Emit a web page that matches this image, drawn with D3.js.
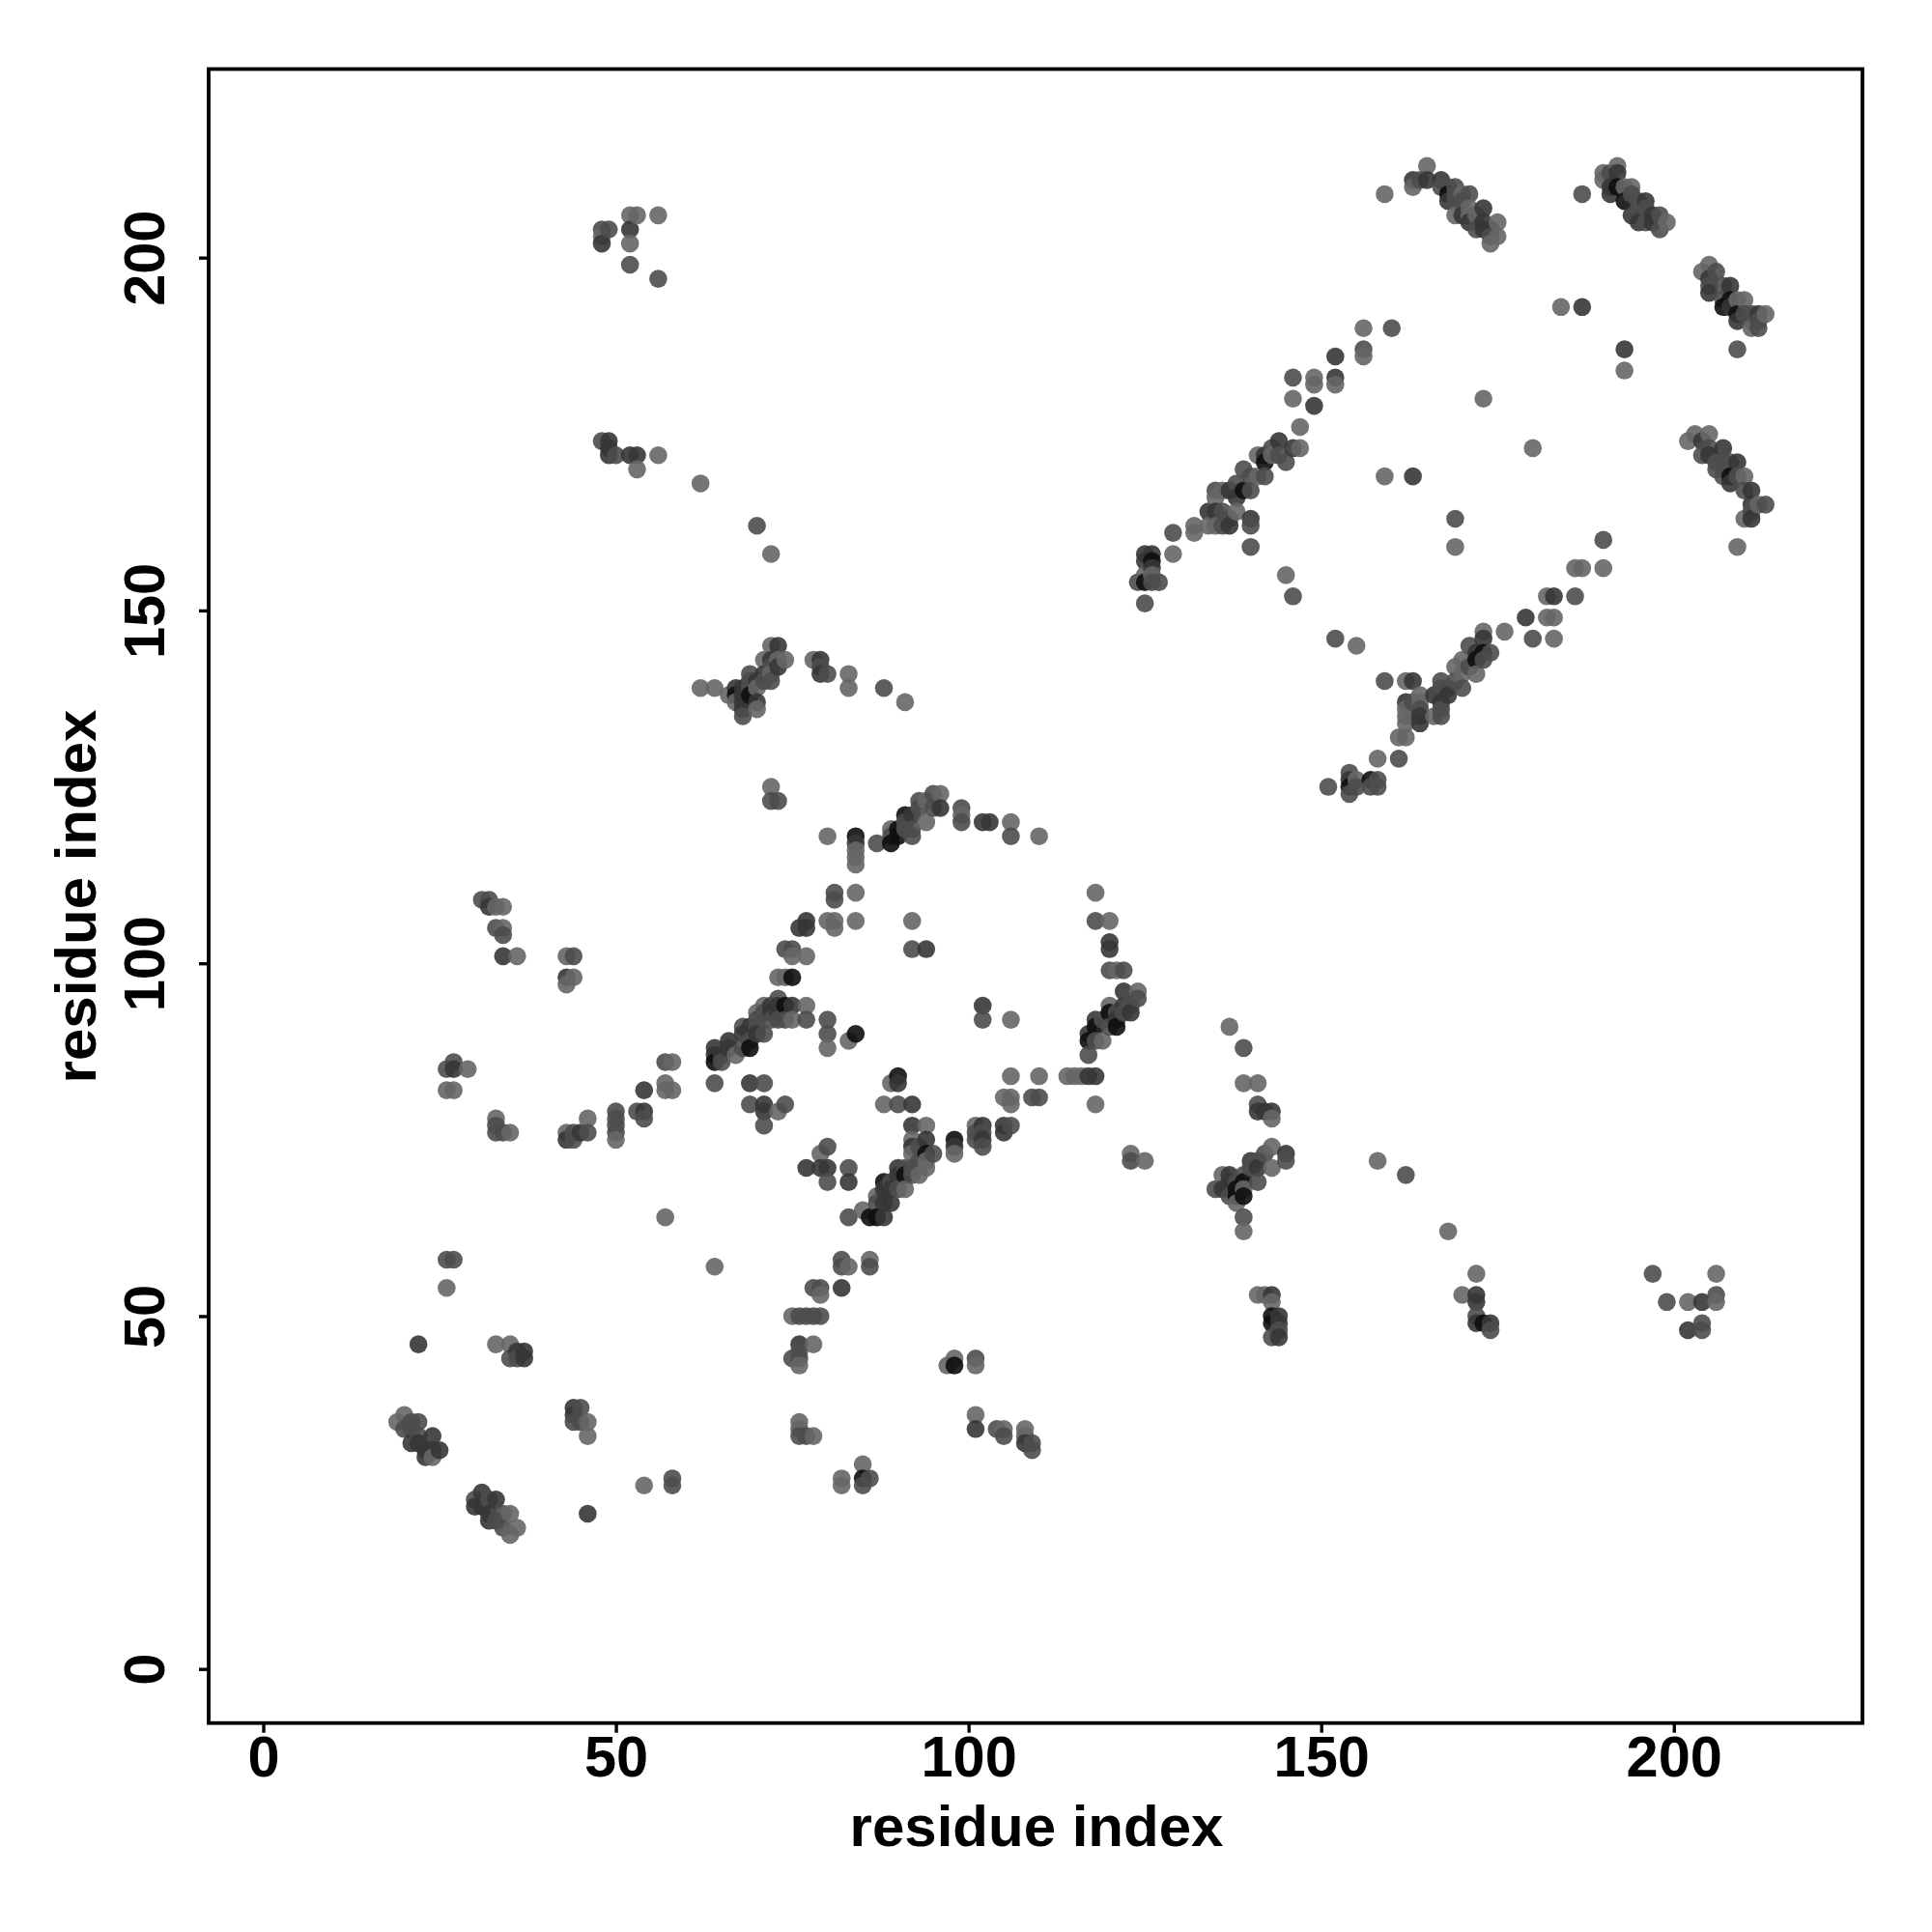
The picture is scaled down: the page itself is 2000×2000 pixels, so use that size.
<!DOCTYPE html>
<html><head><meta charset="utf-8">
<script src="https://cdn.jsdelivr.net/npm/d3@7/dist/d3.min.js"></script>
<style>html,body{margin:0;background:#fff}svg{display:block}</style></head>
<body><svg id="c" width="2000" height="2000"></svg>
<script>
const tickValues=[0,50,100,150,200];
const axisLabel="residue index";
const xDomain=[-7.74,226.74], yDomain=[-7.67,226.72];
// contacts by shade: [residue x, residue y]
const contactsLight=[[159,209],[57,64],[64,57],[26,54],[33,46],[35,46],[19,35],[20,36],[46,35],[46,33],[24,30],[35,22],[36,20],[35,19],[54,26],[83,57],[86,58],[79,53],[79,73],[89,83],[88,80],[94,77],[80,88],[77,94],[83,89],[73,98],[74,98],[77,101],[75,101],[92,106],[106,92],[98,73],[101,77],[105,81],[106,81],[106,80],[106,84],[110,84],[114,84],[115,84],[116,84],[118,80],[120,106],[121,99],[123,73],[125,72],[73,79],[71,94],[70,93],[67,87],[75,92],[85,65],[87,67],[91,68],[94,71],[92,75],[92,73],[94,72],[93,70],[119,89],[120,94],[124,96],[33,78],[35,76],[34,108],[33,108],[34,105],[36,101],[43,101],[43,97],[44,98],[29,85],[26,82],[27,82],[43,76],[46,78],[50,75],[57,83],[57,82],[58,82],[58,86],[52,206],[53,206],[56,206],[48,203],[52,202],[56,172],[53,170],[62,168],[72,158],[62,139],[64,139],[66,138],[67,137],[70,136],[70,139],[71,143],[74,143],[72,145],[72,141],[73,143],[78,143],[83,141],[83,139],[91,137],[72,125],[80,118],[84,116],[84,115],[84,114],[84,110],[81,105],[80,106],[81,106],[84,106],[89,119],[94,120],[96,124],[94,123],[99,121],[106,120],[110,118],[118,110],[75,50],[78,46],[76,43],[97,43],[98,44],[101,43],[76,35],[76,34],[78,33],[85,29],[82,27],[82,26],[101,36],[105,34],[108,34],[108,33],[137,91],[139,83],[141,83],[143,78],[143,74],[143,71],[136,70],[138,66],[139,68],[139,62],[158,72],[168,62],[172,56],[170,53],[141,53],[142,53],[143,52],[206,56],[202,52],[206,52],[129,158],[125,155],[126,155],[132,162],[132,161],[134,162],[135,162],[138,164],[136,167],[135,166],[141,169],[141,172],[143,172],[147,173],[147,176],[149,182],[152,182],[159,169],[169,159],[145,155],[155,145],[173,180],[162,140],[164,138],[162,136],[162,135],[164,137],[162,134],[161,132],[162,132],[166,135],[169,142],[170,141],[172,141],[173,147],[170,143],[176,147],[182,149],[183,149],[158,129],[155,126],[156,190],[156,186],[149,183],[146,180],[184,193],[193,184],[186,156],[187,156],[190,156],[182,152],[163,210],[165,213],[169,206],[170,209],[171,207],[171,206],[172,206],[175,205],[175,203],[174,202],[190,212],[190,211],[192,213],[193,210],[194,210],[199,205],[204,198],[205,199],[209,194],[210,194],[213,192],[211,190],[202,174],[203,175],[205,175],[210,169],[212,165],[210,163],[209,159],[183,146],[180,173]];
const contactsMid=[[146,183],[26,58],[27,58],[35,44],[36,44],[21,35],[22,35],[20,34],[21,34],[22,33],[30,24],[32,24],[34,22],[34,20],[33,21],[45,37],[44,35],[45,35],[58,27],[58,26],[64,83],[71,83],[69,80],[74,80],[71,77],[82,58],[82,57],[86,57],[78,54],[79,54],[83,64],[80,74],[83,71],[80,69],[90,80],[80,92],[80,90],[77,92],[74,102],[75,102],[92,102],[102,92],[101,75],[101,76],[102,74],[102,76],[106,77],[109,81],[110,81],[117,87],[118,106],[120,99],[122,99],[123,72],[65,86],[68,91],[69,89],[68,88],[70,91],[70,92],[71,90],[71,93],[73,95],[73,92],[74,92],[72,92],[87,66],[89,69],[90,68],[91,71],[92,70],[92,71],[95,73],[93,74],[93,72],[118,89],[119,92],[120,91],[124,95],[123,95],[122,93],[121,93],[123,94],[31,109],[32,109],[33,105],[34,104],[44,101],[27,86],[26,85],[33,77],[33,76],[34,76],[44,76],[44,75],[46,76],[50,79],[50,78],[50,77],[50,76],[53,79],[54,78],[57,86],[48,204],[49,204],[52,199],[56,197],[48,174],[50,172],[70,162],[68,135],[69,141],[69,139],[69,140],[71,140],[72,140],[72,142],[80,141],[79,142],[88,139],[72,123],[73,123],[81,110],[81,109],[87,117],[91,119],[91,120],[92,118],[92,119],[93,123],[93,122],[95,124],[95,122],[89,118],[99,122],[99,120],[106,118],[76,50],[77,50],[78,50],[79,50],[76,45],[75,44],[76,44],[101,44],[76,33],[77,33],[85,26],[86,27],[104,34],[105,33],[109,32],[109,31],[139,88],[141,80],[145,72],[142,73],[141,72],[140,71],[139,70],[141,69],[138,69],[137,67],[135,68],[139,64],[162,70],[172,50],[174,48],[144,48],[143,47],[197,56],[199,52],[206,53],[204,49],[204,48],[125,151],[129,161],[124,154],[126,154],[127,154],[136,162],[136,164],[137,163],[135,167],[138,168],[139,170],[140,167],[140,169],[142,169],[143,173],[144,172],[145,171],[140,162],[140,159],[169,163],[146,152],[152,146],[159,140],[163,137],[164,136],[167,135],[167,136],[167,140],[169,140],[170,139],[171,145],[174,144],[173,143],[171,142],[168,139],[167,139],[180,146],[151,125],[154,127],[154,124],[155,125],[158,126],[157,125],[158,125],[161,129],[160,190],[156,187],[190,160],[186,152],[187,209],[164,211],[167,210],[168,210],[169,210],[169,209],[171,209],[170,208],[172,204],[174,203],[169,208],[191,212],[194,209],[195,208],[196,207],[196,205],[198,206],[198,204],[195,207],[206,198],[205,196],[207,194],[207,196],[211,192],[212,190],[210,192],[211,191],[212,191],[209,187],[204,172],[205,173],[206,170],[206,171],[207,171],[207,169],[209,169],[210,167],[213,165],[211,164],[208,171]];
const contactsDark=[[22,46],[36,45],[37,45],[37,44],[21,32],[24,33],[25,31],[23,30],[23,31],[24,31],[22,32],[30,23],[31,25],[33,24],[32,21],[31,23],[32,22],[44,37],[44,36],[46,22],[69,83],[71,80],[71,79],[80,71],[79,71],[77,71],[83,69],[82,54],[90,83],[92,80],[92,77],[77,106],[76,105],[77,105],[94,102],[102,94],[98,74],[102,77],[102,75],[105,77],[105,76],[117,84],[118,84],[120,103],[120,102],[64,88],[64,87],[66,89],[66,88],[65,87],[68,90],[70,90],[69,90],[69,91],[73,94],[75,94],[72,94],[72,93],[73,93],[88,64],[88,66],[89,66],[88,68],[89,68],[90,70],[90,71],[94,75],[92,74],[117,90],[118,92],[121,92],[122,96],[123,93],[122,94],[118,91],[34,101],[32,108],[43,98],[27,85],[43,75],[45,76],[54,79],[54,82],[48,202],[52,204],[49,174],[49,172],[49,173],[52,172],[53,172],[67,139],[68,136],[68,137],[68,139],[68,138],[70,137],[70,140],[71,141],[73,142],[73,145],[72,143],[79,143],[79,141],[84,117],[92,121],[96,122],[102,120],[103,120],[76,46],[101,34],[108,32],[141,79],[142,79],[143,79],[145,73],[140,72],[141,71],[137,70],[137,69],[137,68],[136,68],[172,53],[172,52],[172,49],[174,49],[143,53],[144,50],[144,49],[144,47],[204,52],[202,48],[125,158],[126,158],[125,157],[126,156],[134,164],[135,164],[137,162],[137,167],[138,166],[142,172],[144,174],[146,173],[140,163],[149,179],[163,169],[163,140],[162,137],[164,135],[164,134],[166,138],[167,137],[168,138],[173,146],[172,144],[179,149],[183,152],[154,126],[152,186],[152,183],[193,187],[187,193],[163,211],[165,211],[167,211],[168,208],[173,207],[173,205],[173,204],[174,204],[170,206],[171,205],[191,210],[191,209],[192,212],[196,208],[195,205],[197,206],[197,205],[194,206],[205,197],[205,195],[208,196],[208,193],[209,191],[212,192],[204,174],[205,172],[207,173],[208,168],[209,171],[211,167],[211,165],[211,163]];
const contactsBlack=[[64,86],[69,88],[74,94],[75,98],[84,90],[86,64],[87,64],[88,69],[91,70],[90,84],[94,73],[98,75],[117,89],[118,91],[120,93],[121,91],[67,138],[69,138],[84,118],[89,117],[90,119],[90,118],[91,121],[98,43],[85,27],[139,69],[139,67],[138,67],[138,68],[173,49],[143,50],[143,49],[125,154],[126,157],[139,167],[142,171],[172,143],[173,144],[157,126],[154,125],[168,209],[192,210],[193,208],[207,193],[208,194],[209,192],[208,169]];
const shades=[[contactsLight,"#666666"],[contactsMid,"#4c4c4c"],[contactsDark,"#363636"],[contactsBlack,"#0e0e0e"]];

const svg=d3.select("#c");
const x=d3.scaleLinear().domain(xDomain).range([216,1928]);
const y=d3.scaleLinear().domain(yDomain).range([1783.7,71.5]);
const unique=new Map();
shades.forEach(([list,c])=>list.forEach(p=>unique.set(p[0]+","+p[1],{x:p[0],y:p[1],c})));
const points=[...unique.values()].sort((p,q)=>p.x-q.x||q.y-p.y);
svg.append("g").selectAll("circle").data(points).join("circle")
  .attr("cx",d=>x(d.x)).attr("cy",d=>y(d.y)).attr("r",9.3)
  .attr("fill",d=>d.c).attr("fill-opacity",0.9);
svg.append("rect").attr("x",216).attr("y",71.5).attr("width",1712).attr("height",1712.2)
  .attr("fill","none").attr("stroke","#000").attr("stroke-width",3.8);
const font="'Liberation Sans',Arial,sans-serif";
const gx=svg.append("g").attr("transform","translate(0,1783.7)")
  .call(d3.axisBottom(x).tickValues(tickValues).tickSize(10).tickPadding(0).tickFormat(d3.format("d")));
const gy=svg.append("g").attr("transform","translate(216,0)")
  .call(d3.axisLeft(y).tickValues(tickValues).tickSize(10).tickPadding(0).tickFormat(d3.format("d")));
[gx,gy].forEach(g=>{g.select(".domain").remove();
  g.selectAll("line").attr("stroke","#000").attr("stroke-width",3.4);
  g.selectAll("text").attr("font-family",font).attr("font-weight","bold").attr("font-size",59.5).attr("fill","#000");});
gx.selectAll("text").attr("dy",null).attr("y",55).attr("text-anchor","middle");
gy.selectAll("text").attr("dy",null).attr("x",null).attr("y",null)
  .attr("text-anchor","middle").attr("transform","translate(-46,0) rotate(-90)");
svg.append("text").attr("x",1073).attr("y",1911).attr("text-anchor","middle")
  .attr("font-family",font).attr("font-weight","bold").attr("font-size",60).text(axisLabel);
svg.append("text").attr("transform","translate(99,928) rotate(-90)").attr("text-anchor","middle")
  .attr("font-family",font).attr("font-weight","bold").attr("font-size",60).text(axisLabel);
</script></body></html>
